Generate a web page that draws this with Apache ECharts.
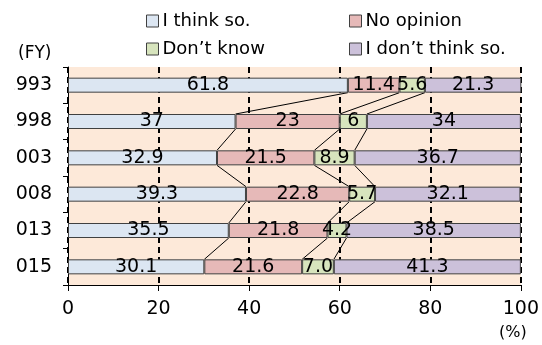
<!DOCTYPE html>
<html>
<head>
<meta charset="utf-8">
<script src="https://cdn.jsdelivr.net/npm/echarts@6/dist/echarts.min.js"></script>
<style>
  html, body { margin: 0; padding: 0; background: #fff; }
  #chart { width: 542px; height: 345px; }
</style>
</head>
<body>
<div id="chart"></div>
<script>
// Survey years (fiscal year)
const years = ['1993', '1998', '2003', '2008', '2013', '2015'];

// Shares of answers (%), kept as printed so labels keep their formatting
const thinkSo    = ['61.8', '37', '32.9', '39.3', '35.5', '30.1'];
const noOpinion  = ['11.4', '23', '21.5', '22.8', '21.8', '21.6'];
const dontKnow   = ['5.6', '6', '8.9', '5.7', '4.2', '7.0'];
const dontThink  = ['21.3', '34', '36.7', '32.1', '38.5', '41.3'];

const seriesNames = ['I think so.', 'No opinion', 'Don\u2019t know', 'I don\u2019t think so.'];
const xTicks = [0, 20, 40, 60, 80, 100];

const FONT = 'DejaVu Sans';
const colors = ['#dce6f2', '#e6b9b8', '#d7e4bd', '#ccc1da'];
const BAR_W = 15;

const valueSets = [thinkSo, noOpinion, dontKnow, dontThink];
const numeric = valueSets.map(a => a.map(Number));

// cumulative boundaries between the segments of each bar
const cum = years.map((_, i) => {
  const c1 = numeric[0][i];
  const c2 = c1 + numeric[1][i];
  const c3 = c2 + numeric[2][i];
  return [c1, c2, c3];
});

// connector lines between consecutive bars
const connectorData = [];
for (let i = 0; i < years.length - 1; i++) {
  connectorData.push([i, ...cum[i], ...cum[i + 1]]);
}

const barSeries = seriesNames.map((name, s) => ({
  name,
  type: 'bar',
  stack: 'total',
  barWidth: BAR_W,
  data: numeric[s],
  itemStyle: { color: colors[s], borderColor: '#404040', borderWidth: 1 },
  label: {
    show: true,
    position: 'inside',
    fontFamily: FONT,
    fontSize: 19,
    color: '#000',
    formatter: p => valueSets[s][p.dataIndex]
  },
  z: 3
}));

const connectorSeries = {
  type: 'custom',
  silent: true,
  data: connectorData,
  encode: { x: [1, 2, 3, 4, 5, 6], y: 0 },
  z: 2,
  renderItem: (params, api) => {
    const i = api.value(0);
    const half = BAR_W / 2;
    const children = [1, 2, 3].map(k => {
      const p1 = api.coord([api.value(k), i]);
      const p2 = api.coord([api.value(k + 3), i + 1]);
      return {
        type: 'line',
        shape: { x1: p1[0], y1: p1[1] + half, x2: p2[0], y2: p2[1] - half },
        style: { stroke: '#000', lineWidth: 1 }
      };
    });
    return { type: 'group', children };
  }
};

const legendCommon = {
  orient: 'vertical',
  top: 6,
  itemWidth: 12,
  itemHeight: 12,
  itemGap: 8,
  icon: 'rect',
  itemStyle: { borderColor: '#404040', borderWidth: 1 },
  textStyle: { fontFamily: FONT, fontSize: 18, color: '#000', lineHeight: 20, padding: [0, 0, 0, -1] },
  selectedMode: false
};

const chart = echarts.init(document.getElementById('chart'));
chart.setOption({
  animation: false,
  backgroundColor: '#fff',
  grid: {
    left: 68, right: 21, top: 67, bottom: 60,
    show: true, backgroundColor: '#fde9d9', borderWidth: 0
  },
  legend: [
    Object.assign({}, legendCommon, { left: 141, data: [seriesNames[0], seriesNames[2]] }),
    Object.assign({}, legendCommon, { left: 344, data: [seriesNames[1], seriesNames[3]] })
  ],
  xAxis: {
    type: 'value',
    min: xTicks[0],
    max: xTicks[xTicks.length - 1],
    interval: xTicks[1] - xTicks[0],
    axisLine: { show: true, lineStyle: { color: '#000', width: 1 } },
    axisTick: { show: true, length: 6, lineStyle: { color: '#000', width: 1 } },
    axisLabel: { fontFamily: FONT, fontSize: 19, color: '#000', margin: 15 },
    splitLine: { show: true, lineStyle: { color: '#000', type: [6, 4], width: 2 } }
  },
  yAxis: {
    type: 'category',
    data: years,
    inverse: true,
    axisLine: { show: true, lineStyle: { color: '#000', width: 1 } },
    axisTick: { show: true, length: 5, lineStyle: { color: '#000', width: 1 } },
    axisLabel: { fontFamily: FONT, fontSize: 19, color: '#000', margin: 16 },
    splitLine: { show: false }
  },
  graphic: [
    // left margin strip: the year labels run past the chart's left edge
    { type: 'rect', left: 0, top: 60, shape: { width: 14, height: 240 }, style: { fill: '#fff' }, z: 100 },
    { type: 'text', left: 18, top: 45, style: { text: '(FY)', font: '17px "DejaVu Sans"', fill: '#000' }, z: 101 },
    { type: 'text', left: 499, top: 325, style: { text: '(%)', font: '16px "DejaVu Sans"', fill: '#000' }, z: 101 }
  ],
  series: [...barSeries, connectorSeries]
});
</script>
</body>
</html>
